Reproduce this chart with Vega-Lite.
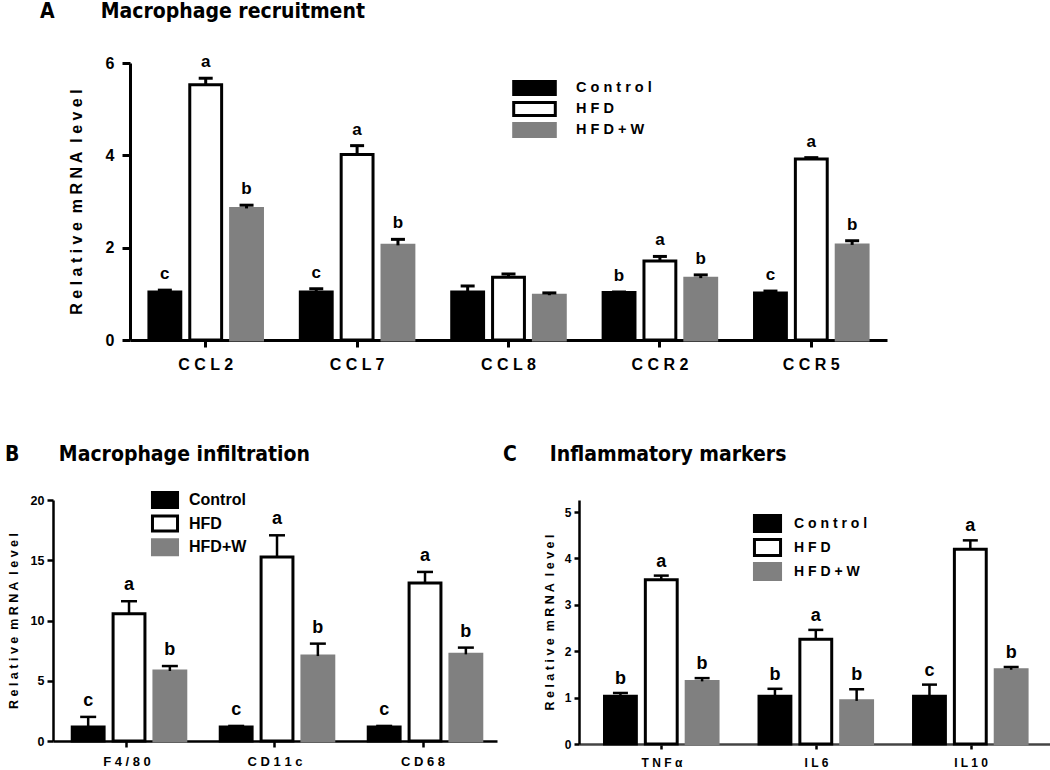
{
  "$schema": "https://vega.github.io/schema/vega-lite/v6.json",
  "padding": {"left": 5, "top": 1, "right": 0, "bottom": 0},
  "autosize": {"type": "pad"},
  "columns": 1,
  "align": "none",
  "spacing": 72,
  "resolve": {"scale": {"fill": "independent", "stroke": "independent"}, "legend": {"fill": "independent", "stroke": "independent"}},
  "datasets": {
    "A": [
      {"gene": "CCL2", "group": "Control", "mean": 1.04, "err": 1.08, "sig": "c"},
      {"gene": "CCL2", "group": "HFD", "mean": 5.53, "err": 5.67, "sig": "a"},
      {"gene": "CCL2", "group": "HFD+W", "mean": 2.85, "err": 2.92, "sig": "b"},
      {"gene": "CCL7", "group": "Control", "mean": 1.04, "err": 1.11, "sig": "c"},
      {"gene": "CCL7", "group": "HFD", "mean": 4.02, "err": 4.21, "sig": "a"},
      {"gene": "CCL7", "group": "HFD+W", "mean": 2.05, "err": 2.18, "sig": "b"},
      {"gene": "CCL8", "group": "Control", "mean": 1.04, "err": 1.17, "sig": ""},
      {"gene": "CCL8", "group": "HFD", "mean": 1.36, "err": 1.43, "sig": ""},
      {"gene": "CCL8", "group": "HFD+W", "mean": 0.97, "err": 1.02, "sig": ""},
      {"gene": "CCR2", "group": "Control", "mean": 1.03, "err": 1.04, "sig": "b"},
      {"gene": "CCR2", "group": "HFD", "mean": 1.71, "err": 1.81, "sig": "a"},
      {"gene": "CCR2", "group": "HFD+W", "mean": 1.34, "err": 1.41, "sig": "b"},
      {"gene": "CCR5", "group": "Control", "mean": 1.02, "err": 1.06, "sig": "c"},
      {"gene": "CCR5", "group": "HFD", "mean": 3.92, "err": 3.95, "sig": "a"},
      {"gene": "CCR5", "group": "HFD+W", "mean": 2.06, "err": 2.15, "sig": "b"}
    ],
    "B": [
      {"gene": "F4/80", "group": "Control", "mean": 1.16, "err": 2.0, "sig": "c"},
      {"gene": "F4/80", "group": "HFD", "mean": 10.57, "err": 11.6, "sig": "a"},
      {"gene": "F4/80", "group": "HFD+W", "mean": 5.81, "err": 6.22, "sig": "b"},
      {"gene": "CD11c", "group": "Control", "mean": 1.16, "err": 1.25, "sig": "c"},
      {"gene": "CD11c", "group": "HFD", "mean": 15.27, "err": 17.07, "sig": "a"},
      {"gene": "CD11c", "group": "HFD+W", "mean": 7.05, "err": 8.08, "sig": "b"},
      {"gene": "CD68", "group": "Control", "mean": 1.16, "err": 1.25, "sig": "c"},
      {"gene": "CD68", "group": "HFD", "mean": 13.11, "err": 14.03, "sig": "a"},
      {"gene": "CD68", "group": "HFD+W", "mean": 7.19, "err": 7.75, "sig": "b"}
    ],
    "C": [
      {"gene": "TNFα", "group": "Control", "mean": 1.03, "err": 1.10, "sig": "b"},
      {"gene": "TNFα", "group": "HFD", "mean": 3.54, "err": 3.63, "sig": "a"},
      {"gene": "TNFα", "group": "HFD+W", "mean": 1.35, "err": 1.42, "sig": "b"},
      {"gene": "IL6", "group": "Control", "mean": 1.03, "err": 1.19, "sig": "b"},
      {"gene": "IL6", "group": "HFD", "mean": 2.26, "err": 2.46, "sig": "a"},
      {"gene": "IL6", "group": "HFD+W", "mean": 0.93, "err": 1.18, "sig": "b"},
      {"gene": "IL10", "group": "Control", "mean": 1.03, "err": 1.28, "sig": "c"},
      {"gene": "IL10", "group": "HFD", "mean": 4.20, "err": 4.39, "sig": "a"},
      {"gene": "IL10", "group": "HFD+W", "mean": 1.60, "err": 1.66, "sig": "b"}
    ]
  },
  "concat": [
    {
      "spacing": -14,
      "resolve": {"scale": {"fill": "independent", "stroke": "independent", "x": "independent"}, "legend": {"fill": "independent", "stroke": "independent"}},
      "hconcat": [
        {
          "width": 1, "height": 10,
          "data": {"values": [{"s": 0}]},
          "mark": {"type": "rect", "opacity": 0},
          "encoding": {
            "x": {"datum": 0, "type": "quantitative", "scale": {"domain": [0, 1]}, "axis": null},
            "x2": {"datum": 1}
          }
        },
        {
          "width": 757,
          "height": 277,
          "data": {"name": "A"},
          "title": {"text": "A\u00a0\u00a0\u00a0\u00a0\u00a0\u00a0\u00a0Macrophage recruitment", "anchor": "start", "frame": "group", "dx": -90, "offset": 14, "fontSize": 21, "font": "DejaVu Sans Condensed, Liberation Sans, sans-serif", "fontWeight": "bold", "baseline": "alphabetic"},
          "encoding": {
            "x": {"field": "gene", "type": "nominal", "sort": ["CCL2", "CCL7", "CCL8", "CCR2", "CCR5"],
              "scale": {"paddingInner": 0.25, "paddingOuter": 0.125},
              "axis": {"title": null, "labelAngle": 0, "tickSize": 7, "tickWidth": 3, "domainWidth": 3, "labelPadding": 9, "labelFontSize": 16, "labelFontWeight": "bold", "labelExpr": "join(split(datum.label,''),' ')"}},
            "xOffset": {"field": "group", "type": "nominal", "sort": ["Control", "HFD", "HFD+W"], "scale": {"paddingInner": 0.22, "paddingOuter": 0}}
          },
          "layer": [
            {
              "mark": {"type": "bar", "strokeWidth": 3},
              "encoding": {
                "y": {"field": "mean", "type": "quantitative", "scale": {"domain": [0, 6], "nice": false},
                  "axis": {"values": [0, 2, 4, 6], "title": "R e l a t i v e\u00a0 m R N A\u00a0 l e v e l", "titleFontSize": 16, "titleFontWeight": "bold", "titlePadding": 21, "tickSize": 8, "tickWidth": 3, "domainWidth": 3, "labelPadding": 8, "labelFontSize": 16, "labelFontWeight": "bold"}},
                "fill": {"field": "group", "type": "nominal", "sort": ["Control", "HFD", "HFD+W"], "scale": {"range": ["#000000", "#ffffff", "#808080"]},
                  "legend": {"orient": "none", "legendX": 396.5, "legendY": 17, "title": null, "padding": 0, "symbolType": "M-3.2,-1H3.2V1H-3.2Z", "symbolSize": 169, "symbolStrokeWidth": 3, "labelOffset": 33.5, "labelFontSize": 14.5, "labelFontWeight": "bold", "rowPadding": -5, "labelExpr": "join(split(datum.label,''),' ')",
                    "encode": {"symbols": {"update": {"stroke": {"signal": "datum.value === 'HFD+W' ? '#808080' : '#000000'"}, "strokeWidth": {"value": 3}}}}}},
                "stroke": {"field": "group", "type": "nominal", "sort": ["Control", "HFD", "HFD+W"], "scale": {"range": ["#000000", "#000000", "#808080"]}, "legend": null}
              }
            },
            {
              "mark": {"type": "rule", "strokeWidth": 3, "color": "#000000"},
              "encoding": {"y": {"field": "mean", "type": "quantitative", "axis": {"values": [0, 2, 4, 6], "title": "R e l a t i v e\u00a0 m R N A\u00a0 l e v e l", "titleFontSize": 16, "titleFontWeight": "bold", "titlePadding": 21, "tickSize": 8, "tickWidth": 3, "domainWidth": 3, "labelPadding": 8, "labelFontSize": 16, "labelFontWeight": "bold"}}, "y2": {"field": "err"}}
            },
            {
              "mark": {"type": "tick", "thickness": 3, "size": 14, "color": "#000000", "opacity": 1},
              "encoding": {"y": {"field": "err", "type": "quantitative", "axis": {"values": [0, 2, 4, 6], "title": "R e l a t i v e\u00a0 m R N A\u00a0 l e v e l", "titleFontSize": 16, "titleFontWeight": "bold", "titlePadding": 21, "tickSize": 8, "tickWidth": 3, "domainWidth": 3, "labelPadding": 8, "labelFontSize": 16, "labelFontWeight": "bold"}}}
            },
            {
              "mark": {"type": "text", "dy": -11, "baseline": "alphabetic", "fontSize": 17, "fontWeight": "bold", "color": "#000000"},
              "encoding": {"y": {"field": "err", "type": "quantitative", "axis": {"values": [0, 2, 4, 6], "title": "R e l a t i v e\u00a0 m R N A\u00a0 l e v e l", "titleFontSize": 16, "titleFontWeight": "bold", "titlePadding": 21, "tickSize": 8, "tickWidth": 3, "domainWidth": 3, "labelPadding": 8, "labelFontSize": 16, "labelFontWeight": "bold"}}, "text": {"field": "sig"}}
            }
          ]
        }
      ]
    },
    {
      "spacing": 6,
      "resolve": {"scale": {"fill": "independent", "stroke": "independent"}, "legend": {"fill": "independent", "stroke": "independent"}},
      "hconcat": [
        {
          "width": 444,
          "height": 241,
          "data": {"name": "B"},
          "title": {"text": "B\u00a0\u00a0\u00a0\u00a0\u00a0\u00a0Macrophage infiltration", "anchor": "start", "frame": "group", "dx": -48, "offset": 9, "fontSize": 21, "font": "DejaVu Sans Condensed, Liberation Sans, sans-serif", "fontWeight": "bold", "baseline": "alphabetic"},
          "encoding": {
            "x": {"field": "gene", "type": "nominal", "sort": ["F4/80", "CD11c", "CD68"],
              "scale": {"paddingInner": 0.26, "paddingOuter": 0.13},
              "axis": {"title": null, "labelAngle": 0, "tickSize": 6, "tickWidth": 2.5, "domainWidth": 2.5, "labelPadding": 8, "labelFontSize": 13, "labelFontWeight": "bold", "labelExpr": "join(split(datum.label,''),' ')"}},
            "xOffset": {"field": "group", "type": "nominal", "sort": ["Control", "HFD", "HFD+W"], "scale": {"paddingInner": 0.25, "paddingOuter": 0}}
          },
          "layer": [
            {
              "mark": {"type": "bar", "strokeWidth": 3},
              "encoding": {
                "y": {"field": "mean", "type": "quantitative", "scale": {"domain": [0, 20], "nice": false},
                  "axis": {"values": [0, 5, 10, 15, 20], "title": "R e l a t i v e\u00a0 m R N A\u00a0 l e v e l", "titleFontSize": 12.5, "titleFontWeight": "bold", "titlePadding": 10, "tickSize": 6, "tickWidth": 2.5, "domainWidth": 2.5, "labelPadding": 3, "labelFontSize": 12.5, "labelFontWeight": "bold"}},
                "fill": {"field": "group", "type": "nominal", "sort": ["Control", "HFD", "HFD+W"], "scale": {"range": ["#000000", "#ffffff", "#808080"]},
                  "legend": {"orient": "none", "legendX": 103, "legendY": -9, "title": null, "padding": 0, "symbolType": "M-1.67,-1H1.67V1H-1.67Z", "symbolSize": 225, "symbolStrokeWidth": 3, "labelOffset": 15, "labelFontSize": 16, "labelFontWeight": "bold", "rowPadding": -4.4,
                    "encode": {"symbols": {"update": {"stroke": {"signal": "datum.value === 'HFD+W' ? '#808080' : '#000000'"}, "strokeWidth": {"value": 3}}}}}},
                "stroke": {"field": "group", "type": "nominal", "sort": ["Control", "HFD", "HFD+W"], "scale": {"range": ["#000000", "#000000", "#808080"]}, "legend": null}
              }
            },
            {
              "mark": {"type": "rule", "strokeWidth": 2.5, "color": "#000000"},
              "encoding": {"y": {"field": "mean", "type": "quantitative", "axis": {"values": [0, 5, 10, 15, 20], "title": "R e l a t i v e\u00a0 m R N A\u00a0 l e v e l", "titleFontSize": 12.5, "titleFontWeight": "bold", "titlePadding": 10, "tickSize": 6, "tickWidth": 2.5, "domainWidth": 2.5, "labelPadding": 3, "labelFontSize": 12.5, "labelFontWeight": "bold"}}, "y2": {"field": "err"}}
            },
            {
              "mark": {"type": "tick", "thickness": 2.5, "size": 16, "color": "#000000", "opacity": 1},
              "encoding": {"y": {"field": "err", "type": "quantitative", "axis": {"values": [0, 5, 10, 15, 20], "title": "R e l a t i v e\u00a0 m R N A\u00a0 l e v e l", "titleFontSize": 12.5, "titleFontWeight": "bold", "titlePadding": 10, "tickSize": 6, "tickWidth": 2.5, "domainWidth": 2.5, "labelPadding": 3, "labelFontSize": 12.5, "labelFontWeight": "bold"}}}
            },
            {
              "mark": {"type": "text", "dy": -11, "baseline": "alphabetic", "fontSize": 18, "fontWeight": "bold", "color": "#000000"},
              "encoding": {"y": {"field": "err", "type": "quantitative", "axis": {"values": [0, 5, 10, 15, 20], "title": "R e l a t i v e\u00a0 m R N A\u00a0 l e v e l", "titleFontSize": 12.5, "titleFontWeight": "bold", "titlePadding": 10, "tickSize": 6, "tickWidth": 2.5, "domainWidth": 2.5, "labelPadding": 3, "labelFontSize": 12.5, "labelFontWeight": "bold"}}, "text": {"field": "sig"}}
            }
          ]
        },
        {
          "width": 475,
          "height": 244,
          "data": {"name": "C"},
          "title": {"text": "C\u00a0\u00a0\u00a0\u00a0\u00a0Inflammatory markers", "anchor": "start", "frame": "group", "dx": -76, "offset": 18, "fontSize": 21, "font": "DejaVu Sans Condensed, Liberation Sans, sans-serif", "fontWeight": "bold", "baseline": "alphabetic"},
          "encoding": {
            "x": {"field": "gene", "type": "nominal", "sort": ["TNFα", "IL6", "IL10"],
              "scale": {"paddingInner": 0.256, "paddingOuter": 0.165},
              "axis": {"title": null, "labelAngle": 0, "tickSize": 5, "tickWidth": 2.5, "domainWidth": 2.5, "domainColor": "#444444", "labelPadding": 8, "labelFontSize": 12, "labelFontWeight": "bold", "labelExpr": "join(split(datum.label,''),' ')"}},
            "xOffset": {"field": "group", "type": "nominal", "sort": ["Control", "HFD", "HFD+W"], "scale": {"paddingInner": 0.26, "paddingOuter": 0}}
          },
          "layer": [
            {
              "mark": {"type": "bar", "strokeWidth": 3},
              "encoding": {
                "y": {"field": "mean", "type": "quantitative", "scale": {"domain": [0, 5.26], "nice": false},
                  "axis": {"values": [0, 1, 2, 3, 4, 5], "title": "R e l a t i v e\u00a0 m R N A\u00a0 l e v e l", "titleFontSize": 12.5, "titleFontWeight": "bold", "titlePadding": 8, "tickSize": 5, "tickWidth": 2.5, "domainWidth": 2.5, "labelPadding": 3, "labelFontSize": 12, "labelFontWeight": "bold"}},
                "fill": {"field": "group", "type": "nominal", "sort": ["Control", "HFD", "HFD+W"], "scale": {"range": ["#000000", "#ffffff", "#808080"]},
                  "legend": {"orient": "none", "legendX": 179, "legendY": 14, "title": null, "padding": 0, "symbolType": "M-1.63,-1H1.63V1H-1.63Z", "symbolSize": 256, "symbolStrokeWidth": 3, "labelOffset": 17, "labelFontSize": 14, "labelFontWeight": "bold", "rowPadding": -14, "labelExpr": "join(split(datum.label,''),' ')",
                    "encode": {"symbols": {"update": {"stroke": {"signal": "datum.value === 'HFD+W' ? '#808080' : '#000000'"}, "strokeWidth": {"value": 3}}}}}},
                "stroke": {"field": "group", "type": "nominal", "sort": ["Control", "HFD", "HFD+W"], "scale": {"range": ["#000000", "#000000", "#808080"]}, "legend": null}
              }
            },
            {
              "mark": {"type": "rule", "strokeWidth": 2.5, "color": "#000000"},
              "encoding": {"y": {"field": "mean", "type": "quantitative", "axis": {"values": [0, 1, 2, 3, 4, 5], "title": "R e l a t i v e\u00a0 m R N A\u00a0 l e v e l", "titleFontSize": 12.5, "titleFontWeight": "bold", "titlePadding": 8, "tickSize": 5, "tickWidth": 2.5, "domainWidth": 2.5, "labelPadding": 3, "labelFontSize": 12, "labelFontWeight": "bold"}}, "y2": {"field": "err"}}
            },
            {
              "mark": {"type": "tick", "thickness": 2.5, "size": 15, "color": "#000000", "opacity": 1},
              "encoding": {"y": {"field": "err", "type": "quantitative", "axis": {"values": [0, 1, 2, 3, 4, 5], "title": "R e l a t i v e\u00a0 m R N A\u00a0 l e v e l", "titleFontSize": 12.5, "titleFontWeight": "bold", "titlePadding": 8, "tickSize": 5, "tickWidth": 2.5, "domainWidth": 2.5, "labelPadding": 3, "labelFontSize": 12, "labelFontWeight": "bold"}}}
            },
            {
              "mark": {"type": "text", "dy": -9, "baseline": "alphabetic", "fontSize": 18, "fontWeight": "bold", "color": "#000000"},
              "encoding": {"y": {"field": "err", "type": "quantitative", "axis": {"values": [0, 1, 2, 3, 4, 5], "title": "R e l a t i v e\u00a0 m R N A\u00a0 l e v e l", "titleFontSize": 12.5, "titleFontWeight": "bold", "titlePadding": 8, "tickSize": 5, "tickWidth": 2.5, "domainWidth": 2.5, "labelPadding": 3, "labelFontSize": 12, "labelFontWeight": "bold"}}, "text": {"field": "sig"}}
            }
          ]
        }
      ]
    }
  ],
  "config": {
    "font": "Liberation Sans",
    "view": {"stroke": null},
    "axis": {"domainColor": "#000000", "tickColor": "#000000", "labelColor": "#000000", "titleColor": "#000000", "labelFont": "Liberation Sans", "titleFont": "Liberation Sans", "grid": false},
    "legend": {"labelColor": "#000000", "labelFont": "Liberation Sans"}
  }
}
